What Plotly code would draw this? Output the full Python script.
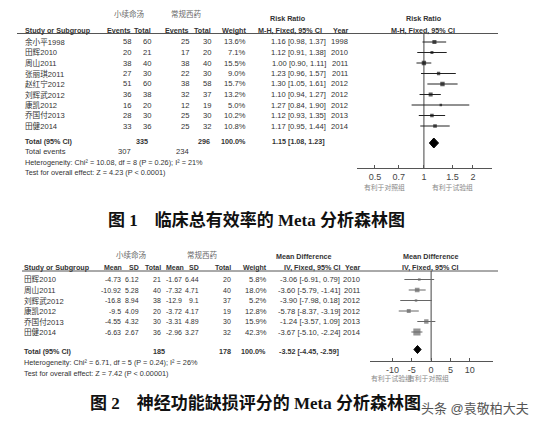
import math
import plotly.graph_objects as go

W, H = 540, 426

# ---- figure 1 : clinical total effective rate (risk ratio) ----
rr_studies = ["余小平1998", "田辉2010", "周山2011", "张丽琪2011", "赵红宁2012",
              "刘辉武2012", "康凯2012", "乔国付2013", "田健2014"]
rr_exp_events = [58, 20, 38, 27, 51, 36, 16, 28, 33]
rr_exp_total = [60, 21, 40, 30, 60, 38, 20, 30, 36]
rr_ctl_events = [25, 17, 38, 22, 38, 32, 12, 25, 25]
rr_ctl_total = [30, 20, 40, 30, 58, 37, 19, 30, 32]
rr_weight = [13.6, 7.1, 15.5, 9.0, 15.7, 13.2, 5.0, 10.2, 10.8]
rr_est = [1.16, 1.12, 1.00, 1.23, 1.30, 1.10, 1.27, 1.12, 1.17]
rr_lo = [0.98, 0.91, 0.90, 0.96, 1.05, 0.94, 0.84, 0.93, 0.95]
rr_hi = [1.37, 1.38, 1.11, 1.57, 1.61, 1.27, 1.90, 1.35, 1.44]
rr_year = [1998, 2010, 2011, 2011, 2012, 2012, 2012, 2013, 2014]
rr_sum_total = [335, 296]
rr_sum_events = [307, 234]
rr_pooled = [1.15, 1.08, 1.23]
rr_ticks = [0.5, 0.7, 1, 1.5, 2]
rr_het = "Heterogeneity: Chi² = 10.08, df = 8 (P = 0.26); I² = 21%"
rr_test = "Test for overall effect: Z = 4.23 (P < 0.0001)"

# ---- figure 2 : neurological deficit score (mean difference) ----
md_studies = ["田辉2010", "周山2011", "刘辉武2012", "康凯2012", "乔国付2013", "田健2014"]
md_exp_mean = [-4.73, -10.92, -16.8, -9.5, -4.55, -6.63]
md_exp_sd = [6.12, 5.28, 8.94, 4.09, 4.32, 2.67]
md_exp_n = [21, 40, 38, 20, 30, 36]
md_ctl_mean = [-1.67, -7.32, -12.9, -3.72, -3.31, -2.96]
md_ctl_sd = [6.44, 4.71, 9.1, 4.17, 4.89, 3.27]
md_ctl_n = [20, 40, 37, 19, 30, 32]
md_weight = [5.8, 18.0, 5.2, 12.8, 15.9, 42.3]
md_est = [-3.06, -3.60, -3.90, -5.78, -1.24, -3.67]
md_lo = [-6.91, -5.79, -7.98, -8.37, -3.57, -5.10]
md_hi = [0.79, -1.41, 0.18, -3.19, 1.09, -2.24]
md_year = [2010, 2011, 2012, 2012, 2013, 2014]
md_sum_total = [185, 178]
md_pooled = [-3.52, -4.45, -2.59]
md_ticks = [-10, -5, 0, 5, 10]
md_het = "Heterogeneity: Chi² = 6.71, df = 5 (P = 0.24); I² = 26%"
md_test = "Test for overall effect: Z = 7.42 (P < 0.00001)"

SANS = "Liberation Sans, Arial, Noto Sans CJK SC"
SERIF = "Liberation Serif, Noto Sans CJK SC"
TXT = "#333333"
FS = 7.6      # table font size
FN = 7.0      # narrow numeric columns of figure 2
FH = 7.2      # bold header font size
STEP = 10.5   # pixel height of a table row

ann = []


def txt(x, y, s, anchor="right", size=FS, color=TXT, bold=False, family=SANS):
    # x, y in picture pixels from the top-left corner
    ann.append(dict(x=x / W, y=1 - y / H, xref="paper", yref="paper", showarrow=False,
                    text=f"<b>{s}</b>" if bold else s, xanchor=anchor, yanchor="middle",
                    font=dict(size=size, color=color, family=family)))


def hline(x0, x1, y, color="#555555"):
    return dict(type="line", xref="paper", yref="paper", x0=x0 / W, x1=x1 / W,
                y0=1 - y / H, y1=1 - y / H, line=dict(color=color, width=1))


fig = go.Figure()

# ================= figure 1 =================
up_rows = [42 + STEP * i for i in range(len(rr_studies))]
up_head, up_line, up_axis = 30.5, 33.5, 168
up_total = 142

txt(129, 14, "小续命汤", "center", 7.5, "#666666")
txt(186, 14, "常规西药", "center", 7.5, "#666666")
txt(288, 19, "Risk Ratio", "center", FH, bold=True)
txt(424, 19, "Risk Ratio", "center", FH, bold=True)
txt(23, up_head, "Study or Subgroup", "left", FH, bold=True)
for xr, s in [(133, "Events"), (153, "Total"), (191, "Events"), (213, "Total"), (248, "Weight")]:
    txt(xr, up_head, s, "right", FH, bold=True)
txt(290, up_head, "M-H, Fixed, 95% CI", "center", FH, bold=True)
txt(350, up_head, "Year", "right", FH, bold=True)
txt(423, up_head, "M-H, Fixed, 95% CI", "center", FH, bold=True)

for i, y in enumerate(up_rows):
    txt(23, y, rr_studies[i], "left")
    txt(133, y, str(rr_exp_events[i]))
    txt(153, y, str(rr_exp_total[i]))
    txt(191, y, str(rr_ctl_events[i]))
    txt(213, y, str(rr_ctl_total[i]))
    txt(248, y, f"{rr_weight[i]:.1f}%")
    txt(328, y, f"{rr_est[i]:.2f} [{rr_lo[i]:.2f}, {rr_hi[i]:.2f}]")
    txt(350, y, str(rr_year[i]))

txt(23, up_total, "Total (95% CI)", "left", FH, bold=True)
txt(150, up_total, str(rr_sum_total[0]), size=FH, bold=True)
txt(212, up_total, str(rr_sum_total[1]), size=FH, bold=True)
txt(248, up_total, "100.0%", size=FH, bold=True)
txt(327, up_total, f"{rr_pooled[0]:.2f} [{rr_pooled[1]:.2f}, {rr_pooled[2]:.2f}]", size=FH, bold=True)
txt(23, up_total + 9.7, "Total events", "left")
txt(133, up_total + 9.7, str(rr_sum_events[0]))
txt(191, up_total + 9.7, str(rr_sum_events[1]))
txt(23, up_total + 20.3, rr_het, "left", 7.3)
txt(23, up_total + 30, rr_test, "left", 7.3)
txt(385, 188, "有利于对照组", "center", 6.8, "#888888")
txt(452, 188, "有利于试验组", "center", 6.8, "#888888")

# null line, CIs, boxes, diamond
fig.add_trace(go.Scatter(x=[1, 1], y=[up_line, up_axis], mode="lines",
                         line=dict(color="#444444", width=1), xaxis="x", yaxis="y"))
ci_x, ci_y = [], []
for lo, hi, y in zip(rr_lo, rr_hi, up_rows):
    ci_x += [lo, hi, None]
    ci_y += [y, y, None]
fig.add_trace(go.Scatter(x=ci_x, y=ci_y, mode="lines", line=dict(color="#222222", width=1),
                         xaxis="x", yaxis="y"))
fig.add_trace(go.Scatter(x=rr_est, y=up_rows, mode="markers", xaxis="x", yaxis="y",
                         marker=dict(symbol="square", color="#111111", line=dict(width=0),
                                     size=[max(2.5, 1.1 * math.sqrt(w)) for w in rr_weight])))
est, lo, hi = rr_pooled
fig.add_trace(go.Scatter(x=[lo, est, hi, est, lo], y=[up_total + 1, up_total - 4, up_total + 1,
                                                       up_total + 6, up_total + 1],
                         mode="lines", fill="toself", fillcolor="#000000",
                         line=dict(color="#000000", width=1), xaxis="x", yaxis="y"))

# ================= figure 2 =================
lo_rows = [279.5 + STEP * i for i in range(len(md_studies))]
lo_head, lo_line, lo_axis = 267.7, 271, 360.7
lo_total = 351.5

txt(131, 255, "小续命汤", "center", 7.5, "#666666")
txt(202, 255, "常规西药", "center", 7.5, "#666666")
txt(304, 256, "Mean Difference", "center", FH, bold=True)
txt(431, 256, "Mean Difference", "center", FH, bold=True)
txt(22, lo_head, "Study or Subgroup", "left", FH, bold=True)
for xr, s in [(124, "Mean"), (141, "SD"), (163, "Total"), (186, "Mean"), (201, "SD"),
              (233, "Total"), (269, "Weight")]:
    txt(xr, lo_head, s, "right", 7.0, bold=True)
txt(312, lo_head, "IV, Fixed, 95% CI", "center", FH, bold=True)
txt(362, lo_head, "Year", "right", FH, bold=True)
txt(430, lo_head, "IV, Fixed, 95% CI", "center", FH, bold=True)

for i, y in enumerate(lo_rows):
    txt(22, y, md_studies[i], "left")
    txt(123, y, f"{md_exp_mean[i]:g}", size=FN)
    txt(141, y, f"{md_exp_sd[i]:g}", size=FN)
    txt(163, y, str(md_exp_n[i]), size=FN)
    txt(184, y, f"{md_ctl_mean[i]:g}", size=FN)
    txt(201, y, f"{md_ctl_sd[i]:g}", size=FN)
    txt(233, y, str(md_ctl_n[i]), size=FN)
    txt(269, y, f"{md_weight[i]:.1f}%")
    txt(342, y, f"{md_est[i]:.2f} [{md_lo[i]:.2f}, {md_hi[i]:.2f}]")
    txt(362, y, str(md_year[i]))

txt(22, lo_total, "Total (95% CI)", "left", FH, bold=True)
txt(167, lo_total, str(md_sum_total[0]), size=FH, bold=True)
txt(233, lo_total, str(md_sum_total[1]), size=FH, bold=True)
txt(268, lo_total, "100.0%", size=FH, bold=True)
txt(341, lo_total, f"{md_pooled[0]:.2f} [{md_pooled[1]:.2f}, {md_pooled[2]:.2f}]", size=FH, bold=True)
txt(22, lo_total + 11.3, md_het, "left", 7.3)
txt(22, lo_total + 21.5, md_test, "left", 7.3)
txt(391, 378, "有利于试验组", "center", 6.8, "#888888")
txt(428, 378, "有利于对照组", "center", 6.8, "#888888")

fig.add_trace(go.Scatter(x=[0, 0], y=[lo_line, lo_axis], mode="lines",
                         line=dict(color="#444444", width=1), xaxis="x2", yaxis="y2"))
ci_x, ci_y = [], []
for lo, hi, y in zip(md_lo, md_hi, lo_rows):
    ci_x += [lo, hi, None]
    ci_y += [y, y, None]
fig.add_trace(go.Scatter(x=ci_x, y=ci_y, mode="lines", line=dict(color="#666666", width=1),
                         xaxis="x2", yaxis="y2"))
fig.add_trace(go.Scatter(x=md_est, y=lo_rows, mode="markers", xaxis="x2", yaxis="y2",
                         marker=dict(symbol="square", color="#666666", line=dict(width=0),
                                     size=[max(2.5, 1.1 * math.sqrt(w)) for w in md_weight])))
est, lo, hi = md_pooled
fig.add_trace(go.Scatter(x=[lo, est, hi, est, lo], y=[lo_total - 2, lo_total - 6, lo_total - 2,
                                                       lo_total + 2, lo_total - 2],
                         mode="lines", fill="toself", fillcolor="#000000",
                         line=dict(color="#000000", width=1), xaxis="x2", yaxis="y2"))

# captions and watermark
txt(256, 220, "<b>图 1　临床总有效率的 Meta 分析森林图</b>", "center", 17, "#111111", family=SERIF)
txt(255, 403, "<b>图 2　神经功能缺损评分的 Meta 分析森林图</b>", "center", 17, "#111111", family=SERIF)
txt(475, 408, "头条 @袁敬柏大夫", "center", 13, "#555555")

axis_common = dict(showline=True, linecolor="#555555", linewidth=1, ticks="inside",
                   ticklen=3, tickcolor="#555555", showgrid=False, zeroline=False,
                   tickfont=dict(size=9, color="#444444", family=SANS), fixedrange=True)
yaxis_common = dict(visible=False, fixedrange=True)

fig.update_layout(
    width=W, height=H, margin=dict(l=0, r=0, t=0, b=0),
    paper_bgcolor="white", plot_bgcolor="rgba(0,0,0,0)", showlegend=False,
    xaxis=dict(type="log", range=[math.log10(0.388), math.log10(2.62)],
               domain=[357 / W, 492 / W], anchor="y", tickvals=rr_ticks,
               ticktext=[f"{t:g}" for t in rr_ticks], **axis_common),
    yaxis=dict(range=[up_axis, up_line], domain=[1 - up_axis / H, 1 - up_line / H],
               anchor="x", **yaxis_common),
    xaxis2=dict(range=[-15.8, 16], domain=[370 / W, 493 / W], anchor="y2",
                tickvals=md_ticks, ticktext=[str(t) for t in md_ticks], **axis_common),
    yaxis2=dict(range=[lo_axis, lo_line], domain=[1 - lo_axis / H, 1 - lo_line / H],
                anchor="x2", **yaxis_common),
    shapes=[hline(17, 498, up_line), hline(22, 498, lo_line)],
    annotations=ann,
)

fig.write_html("out.html", config={"displayModeBar": False},
               post_script="document.body.style.margin = '0';")
